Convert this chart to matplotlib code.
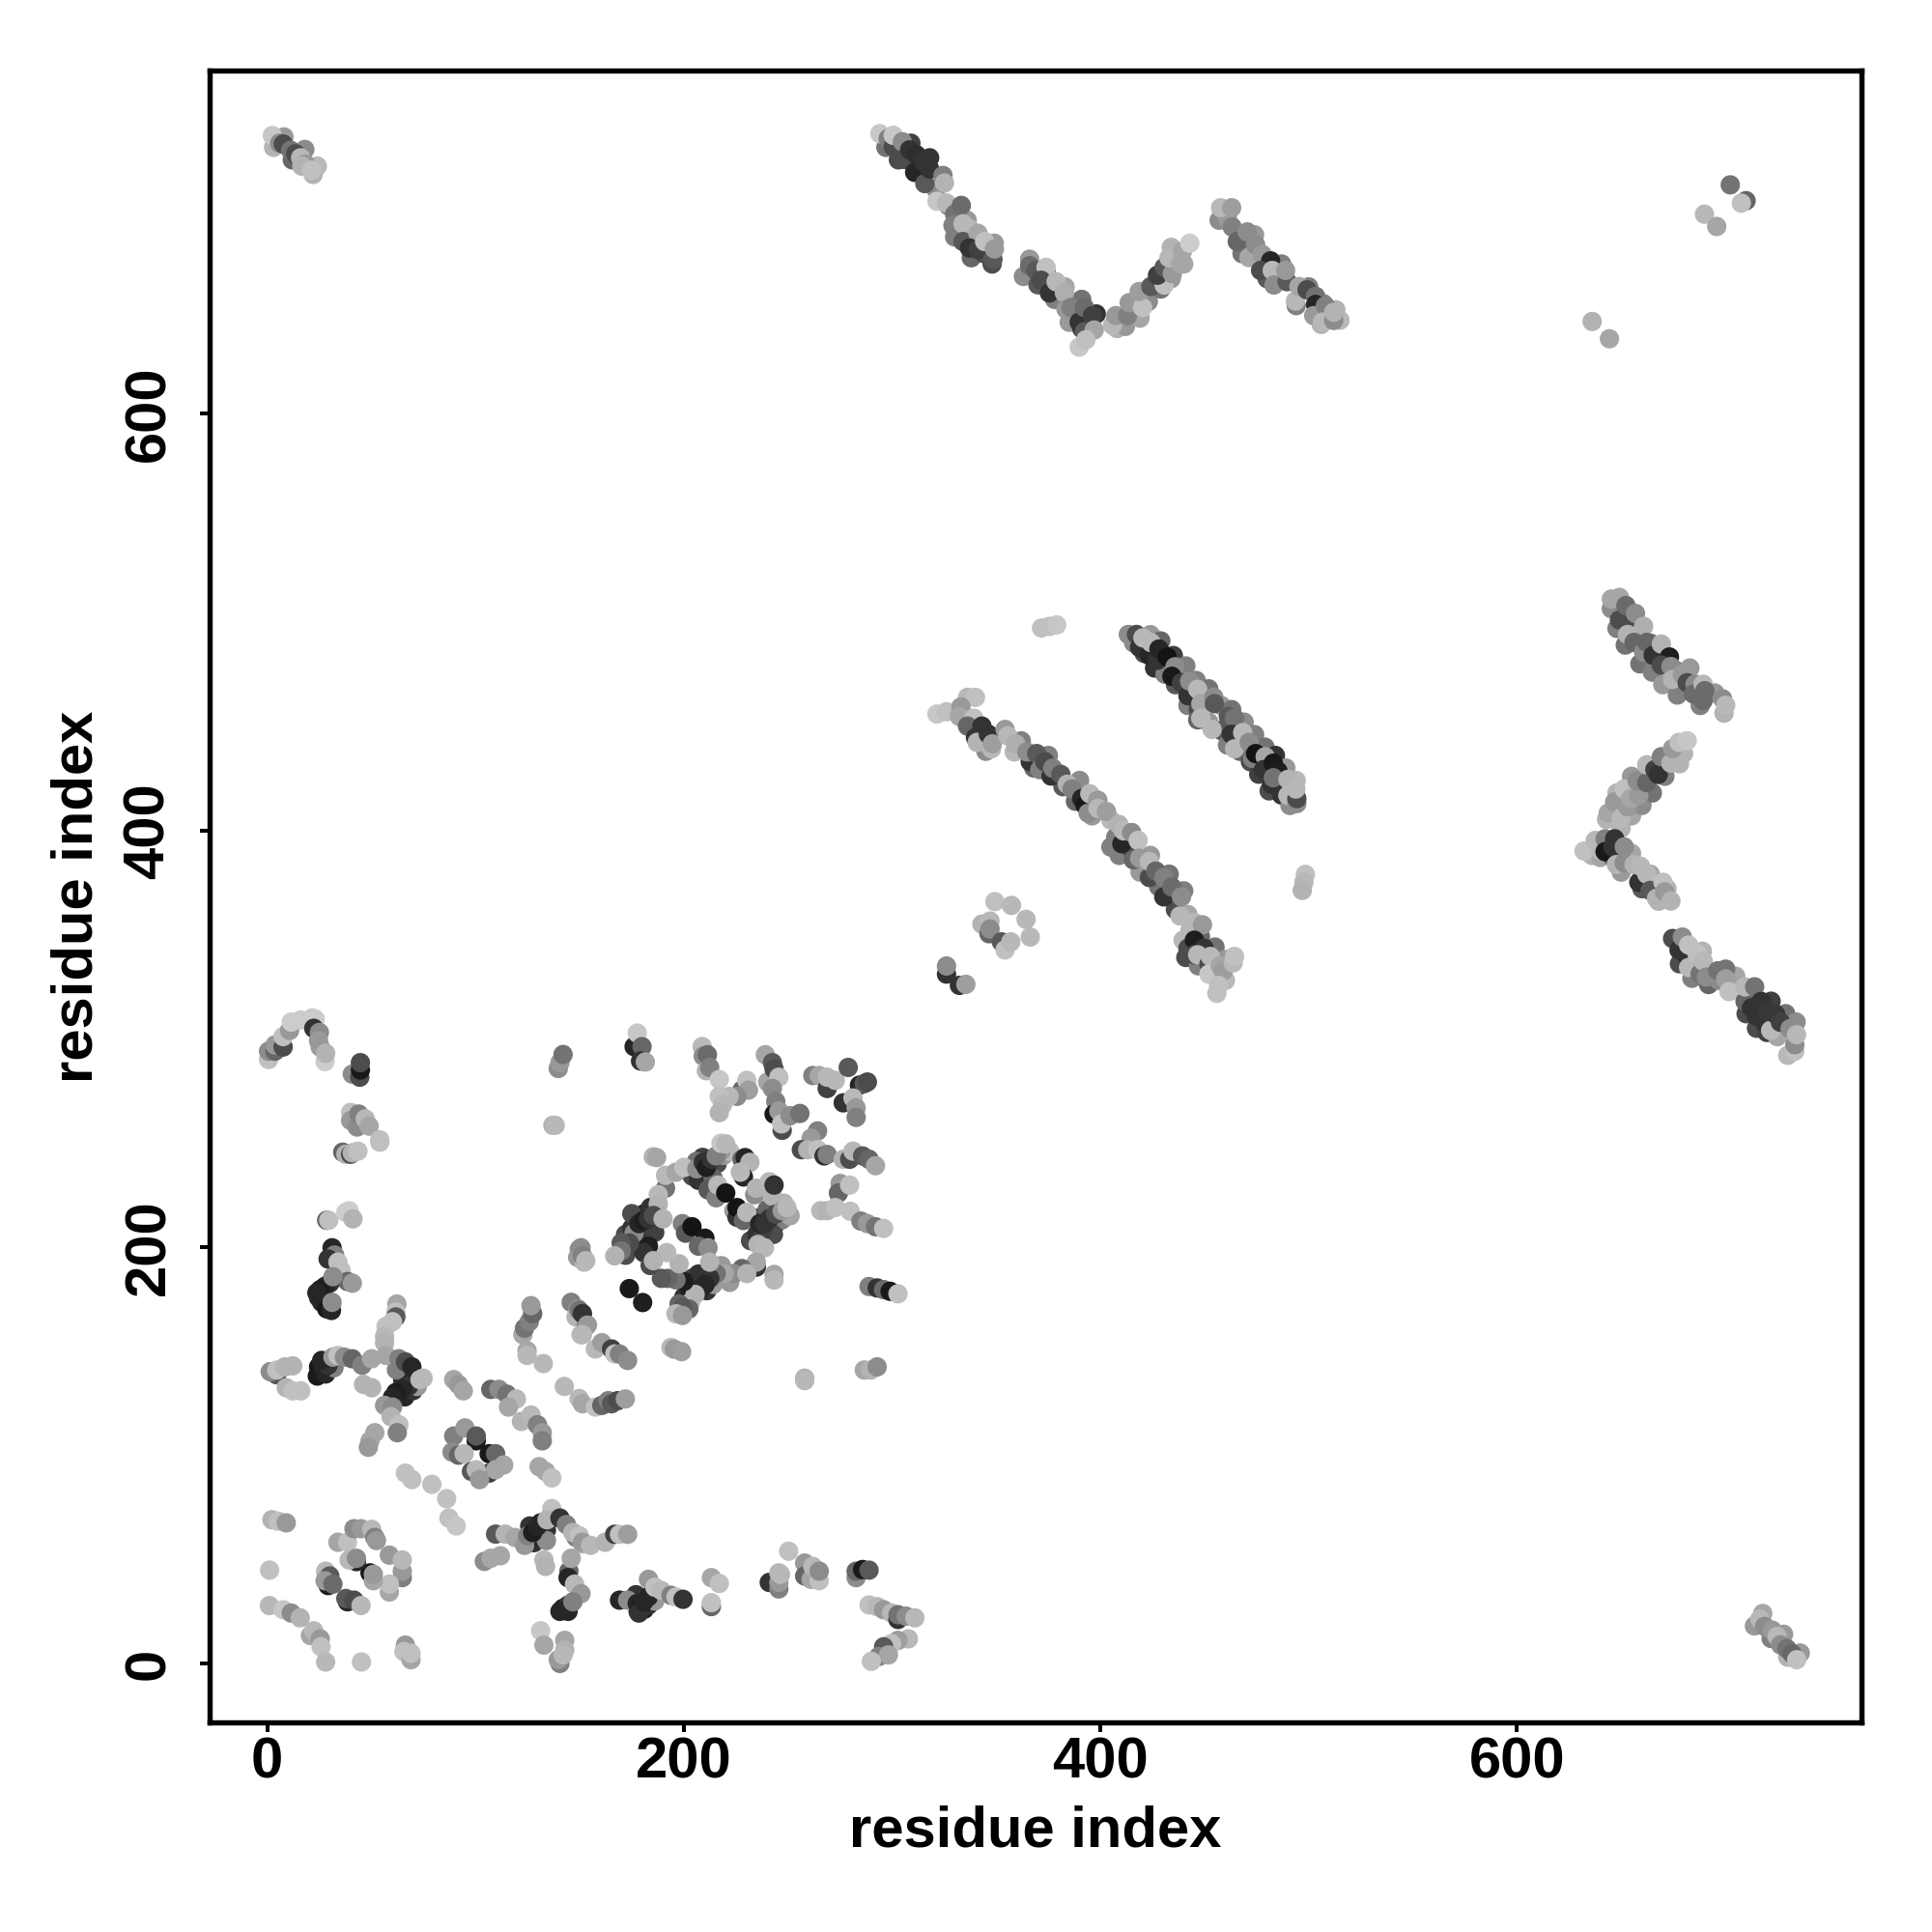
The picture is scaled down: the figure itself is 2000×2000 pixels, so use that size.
import matplotlib
matplotlib.use("Agg")
import matplotlib.pyplot as plt
import numpy as np

plt.rcParams['font.family'] = ['Liberation Sans', 'DejaVu Sans']
plt.rcParams['font.weight'] = 'bold'

# (residue i, residue j, grey level), one list per patch
# these sit under the rest and fill out the dense bands
under_bands = [(204,234,.3),(207,232,.2),(212,236,.15),(216,240,.3),(219,244,.6),(222,246,.72),(214,233,.4),(209,243,.25),(206,241,.45),
  (232,203,.3),(235,206,.2),(238,204,.15),(241,208,.2),(244,211,.25),(247,213,.5),(251,215,.65),(243,206,.3),(236,214,.3),(240,218,.4),(248,221,.7),
  (200,176,.2),(203,178,.12),(206,182,.15),(209,184,.2),(212,188,.3),(214,190,.45),(204,185,.3),(207,187,.2),(211,179,.2),(214,182,.6),(218,191,.6),(222,183,.6),
  (172,206,.3),(175,209,.2),(178,214,.15),(181,216,.15),(184,219,.2),(187,212,.7),(175,216,.3),(178,205,.2),(186,207,.25),(172,196,.3),
  (24,138,.1),(28,139,.15),(32,142,.5),(66,128,.15),(70,131,.2),(65,136,.2),(68,139,.15),(62,141,.5),(72,133,.6),
  (178,25,.2),(181,26,.12),(183,28,.2),(186,30,.6),(177,33,.2),(128,58,.2),(131,60,.15),(134,64,.2),(137,70,.3),(126,66,.2),(134,59,.55),
  (416,490,.55),(421,485,.3),(426,478,.2),(431,475,.5),(436,470,.35),(442,460,.5),(447,458,.3),(452,452,.6),(458,448,.35),(461,441,.5),(467,438,.4),(472,433,.3),(476,427,.25),(481,419,.3),(487,417,.2),(491,412,.55),
  (424,494,.6),(429,491,.4),(435,484,.25),(441,479,.5),(446,472,.5),(452,468,.45),(458,460,.6),(463,458,.45),(469,452,.55),(474,446,.5),(479,440,.45),(484,436,.2),(489,430,.6),(494,424,.72),
  (345,438,.55),(362,443,.5),(368,430,.4),(375,436,.5),(382,421,.35),(388,414,.4),(390,424,.55),(396,407,.6),(405,405,.72),
  (405,392,.5),(409,388,.5),(414,392,.3),(419,380,.6),(424,388,.6),(428,373,.45),(433,379,.45),(436,362,.3),(440,371,.5),(443,352,.72),(448,349,.4),(441,339,.3),(447,335,.5),(455,344,.45),(460,338,.6),(460,328,.72),
  (648,497,.5),(652,489,.45),(659,480,.45),(664,490,.5),(665,476,.5),(670,470,.6),(676,477,.5),(677,465,.5),(683,478,.6),(688,460,.5),(695,466,.6),
  (650,401,.7),(648,418,.7),(655,407,.65),(655,426,.6),(660,412,.55),(665,418,.45),(668,431,.35),(671,426,.5),(678,432,.7),(680,437,.7),
  (636,388,.7),(640,387,.65),(646,387,.4),(650,380,.6),(655,389,.65),(660,372,.35),(664,379,.65),(668,366,.7),(672,372,.7),
  (678,336,.3),(684,329,.5),(689,342,.7),(692,326,.4),(697,328,.55),(705,330,.65),(710,312,.3),(715,305,.3),(720,303,.25),(725,301,.65),(722,318,.25),(729,312,.45),(734,308,.55),(730,292,.72),
  (297,728,.45),(303,722,.3),(309,730,.25),(313,716,.25),(318,723,.2),(321,708,.55),(327,700,.5),(330,685,.5),(336,693,.6),(338,675,.4),(344,677,.3),(349,682,.6),(348,672,.3),
  (363,666,.55),(370,662,.35),(374,668,.5),(378,655,.5),(383,661,.65),(385,644,.6),(391,655,.45),(398,648,.2),(391,641,.25),
  (408,641,.7),(412,642,.6),(419,646,.65),(423,654,.55),(429,660,.45),(434,665,.6),(440,672,.65),(434,680,.7),
  (457,693,.55),(461,694,.6),(468,677,.45),(474,686,.6),(480,665,.35),(487,672,.5),(494,652,.5),(500,661,.5),(507,653,.55),(506,643,.7),(510,647,.6),(515,645,.72),(513,650,.7),
  (3,728,.7),(8,733,.6),(12,722,.4),(18,727,.55),(22,715,.7),(24,719,.72),
  (718,24,.65),(714,18,.6),(722,12,.5),(728,14,.6),(730,3,.7),(736,5,.6)]

arc_left = [(0.6,290,.75),(0.6,294,.55),(3.7,294,.4),(3.7,297,.6),(7.6,296,.3),(7.6,301,.75),(10.7,304,.6),(11.5,308,.8),
  (16,309,.8),(21.5,310,.8),(23,309.4,.8),(22.3,305,.2),(25,303,.55),(24.6,299,.6),(25.4,296,.6),(27.7,289,.8),(28,293,.7),
  (40.8,283,.55),(44.4,281.5,.3),(44.7,285,.1),(44.7,288.5,.3),(139.7,285.7,.55),(140.5,288.5,.6),(142,292.4,.45),
  (137.1,258.4,.7),(138.2,258.4,.72),(40,264.6,.75),(40,260.7,.6),(43.1,257.6,.55),(43.9,263.8,.5),(47,261.5,.72),(48.9,258,.65),
  (54,250.3,.75),(54,251.4,.75),(36.2,245.5,.4),(37.7,244.5,.7),(40,244.5,.3),(40.8,245.2,.7),(43.5,246,.75)]

column_left = [(28.5,212.8,.4),(29.5,212.8,.75),(37.7,216.6,.8),(39.3,217.4,.8),(41.1,213.5,.7),
  (31.1,199.6,.15),(32.3,196.1,.5),(29.2,194.2,.2),(33.9,192.7,.75),(35.4,188.8,.75),(38.5,183.4,.4),(40.8,182.6,.6),
  (30,182.6,.2),(27.7,181.1,.15),(25.4,179.5,.12),(23.8,178,.15),(24.6,175.7,.15),(26.1,173.4,.15),(28.5,170.3,.1),(30.8,169.5,.15),
  (31.1,173.4,.55),(31.5,185.7,.55),(62.2,172.6,.65),(61.7,168.7,.75),(61.7,166.4,.35),(60.1,164.1,.75),(57,161.8,.75),(56.3,157.1,.72),(56.3,154,.7),
  (122.7,157.9,.65),(123.5,161,.45),(125.8,164.1,.5),(127.4,168,.4),(126.6,171.8,.6),(124.7,150.2,.65),(124.7,147.9,.72),(132.5,144,.72),
  (142.6,133,.72),(149.7,127.2,.72),(145.9,173.4,.5),(149,170.3,.55),(150.6,166.4,.2),(148.2,166.4,.7),(152.9,161.8,.55),(150.6,157.9,.72),
  (149.8,198.9,.55),(149,195,.6),(152.1,192.7,.72)]

zigzag_left = [(4.5,138.6,.35),(1.4,140.1,.55),(4.5,140.9,.75),(8.4,142.4,.7),(12.2,142.9,.7),(9.1,132.4,.7),(12.2,130.9,.75),(16.1,130.9,.75),
  (24.6,142.4,.1),(26.9,141.7,.15),(29.2,143.2,.2),(26.1,145.5,.15),(31.5,147.1,.6),(33.9,147.9,.75),(37,147.1,.55),(40.8,146.3,.4),
  (45.5,143.2,.5),(50.1,146.3,.65),(46.2,134,.7),(50.1,132.4,.7),(57,147.9,.65),(63.2,146.3,.5),(66.3,144.8,.3),(69.4,142.4,.15),
  (67.9,133.2,.2),(64.8,131.6,.15),(61.7,130.1,.12),(60.1,127.8,.15),(73.3,136.3,.72),(74.8,137,.72),(56.3,123.9,.6),(60.1,123.1,.55),
  (59.4,118.5,.7),(63.2,114.6,.75),(62.4,110.8,.5),(51.6,110.8,.65),(49.3,106.9,.65),(48.5,103.8,.6),
  (89.5,136.3,.65),(91.8,133.9,.6),(94.1,130.9,.65),(107.3,131.6,.4),(111.2,131.6,.55),(115,129.3,.45),(119.6,127,.72),(115.8,123.1,.65),
  (122,116.2,.7),(126.6,119.3,.72),(129.7,114.6,.5),(132,110.8,.6),(132,106.9,.5),(130.5,94.5,.65),(133.6,92.2,.65),(136.6,89.1,.75),
  (89.5,109.2,.5),(94.9,113.1,.6),(100.3,106.9,.1),(100.3,109.2,.35),(88.7,101.5,.55),(91.8,100,.4),(94.5,100.7,.72),(106.5,100.7,.1),(109.6,100.7,.4),
  (98,92.2,.35),(106.5,91.4,.25),(100.3,93,.72),(101.9,88.3,.6),(109.6,93,.65),(113.5,95.3,.65),
  (66.3,91.4,.75),(69.4,88.3,.75),(79,86,.75),(86.1,79.1,.75),(87.2,69.8,.75),(90.7,66,.78)]

ring_low = [(2.2,69,.7),(5.3,68.3,.75),(9.1,67.5,.6),(1.1,44.8,.75),(1,27.8,.72),(7.6,25.8,.78),(11.5,24.2,.55),(15.8,21.9,.7),
  (20.7,13.4,.65),(22.3,15.7,.72),(25.4,11.8,.6),(25.8,8,.75),(28,0.7,.72),(45.2,0.7,.75),(66.3,8.8,.6),(65.6,5.7,.75),(69,1.8,.65),(69,4.9,.75),
  (33.9,58.2,.65),(38.5,58.2,.75),(41.6,64.7,.55),(45,64.7,.6),(50.1,64.4,.72),(51.6,60.5,.5),(52.4,59,.6),(58.6,52,.6),(64.8,41.2,.5),(64.8,44.3,.6),(64.8,49.7,.72),
  (58.6,34.3,.65),(58.6,38.1,.75),(49.3,43.5,.1),(50.9,39.7,.65),(50.9,42.8,.6),(42.8,48.9,.15),(39.3,49.7,.72),(42.8,50.5,.55),
  (28,44.3,.72),(29.2,37.4,.1),(30,42,.35),(27.7,39.7,.6),(31.5,38.1,.42),(38.5,29.6,.15),(37.7,31.2,.35),(41.6,30.4,.3),(45,27.8,.72)]

peak_low = [(109.6,62.1,.35),(114.2,62.1,.7),(118.9,60.5,.65),(123.5,56.7,.6),(125,61.3,.5),(127.4,62.9,.12),(129.7,65.9,.15),(131.2,67.5,.15),
  (136.6,74.4,.75),(134.3,69,.7),(140.5,69.8,.2),(143.6,66.7,.5),(148.2,60.5,.5),(146.7,62.9,.7),(151.3,57.4,.7),(149.8,61.3,.75),(151.3,58.2,.6),
  (155.2,56.7,.72),(162.2,58.2,.7),(166.8,62,.25),(169.1,62,.75),(173,62,.62),(104.2,49,.55),(107.3,50.5,.65),(111.9,51.7,.65),
  (132.8,49.7,.72),(133.6,46.6,.7),(144.8,44.3,.4),(144.4,41.2,.15),(145.9,50.5,.65),(147.5,38.1,.72),(150.6,33.5,.6),
  (142,26.5,.12),(144.4,28,.2),(144.4,25,.15),(140.5,25,.15),(146.7,29.6,.5),(131.2,15.7,.78),(132.8,8.8,.65),(142.8,11.1,.65),(142.8,6.4,.7),
  (140.5,0,.5),(139.7,1.8,.6),(142,4.1,.72)]

foot_low = [(169.1,30.4,.15),(173,30.4,.55),(183,40.4,.6),(177.6,28.8,.15),(179.2,27.3,.12),(178.4,24.2,.2),(180.7,29.6,.15),(183,32,.15),
  (186.1,36.6,.75),(189.2,35,.72),(193.8,32.7,.5),(196.2,31.9,.75),(199.6,30.8,.2),(213.2,41.2,.65),(217,38.4,.75),(213.2,27.3,.4),(213.2,29.2,.75),
  (241,38.9,.2),(245.6,35.8,.5),(245.6,38.9,.6),(245.6,43.5,.72),(246.4,42.8,.72),(250.3,53.9,.75),(258,48.2,.6),(258,42,.4),(261.1,40.4,.65),(261.9,46.6,.72),(265,39.7,.75),(265,44.3,.55),
  (282.7,41.2,.55),(282.7,44.3,.4),(285.8,45.1,.1),(288.9,44.8,.35),(288.9,28.1,.75),(292.8,27.3,.72),(295.9,25.8,.6),(299.7,24.2,.72),(302.8,21.1,.2),(302.8,23.4,.45),
  (306.7,22.7,.55),(310.9,21.9,.72),(307.8,11.8,.72),(302.8,11.1,.62),(299.7,9.5,.75),(295.9,8,.35),(293.5,3.3,.5),(298.2,4.1,.65),(290,1,.75),
  (258,137,.7),(258,135.8,.72),(286.6,140.9,.65),(289.7,140.9,.7),(292.8,142.4,.55),
  (151.3,124.7,.65),(157.5,123.1,.75),(160.6,123.9,.4),(163.7,126.2,.5),(165.3,124.7,.35),(168.3,126.2,.3),(171.9,127,.62)]

upper_mid = [(176.1,296.2,.15),(177.6,302.7,.78),(179.9,296.2,.4),(179.2,289.3,.2),(181.5,288.8,.65),
  (208.8,296.2,.72),(209.3,291.6,.55),(211.3,292.3,.42),(210.8,284.6,.7),(212.4,286.2,.5),(217,280.4,.78),(227.9,275.3,.4),(230.2,280,.75),(231,275.3,.62),
  (225.5,272.3,.55),(221.7,272.3,.72),(217,272.3,.75),(218.6,268.4,.72),(217,264.5,.7),
  (239.1,292.3,.65),(240.2,279.2,.65),(242.5,288.5,.35),(243.3,285.4,.3),(245.6,281.5,.75),(242.5,276.1,.55),(244.1,269.9,.5),(243.3,263.8,.1),(245.6,265.3,.6),
  (247.2,256,.3),(246.9,259.1,.75),(251,263,.55),(255.7,264.1,.45),
  (261.9,282.3,.5),(265,282.3,.65),(268.8,276.1,.25),(268.8,281.5,.72),(272.7,280,.72),(278.9,286.2,.35),(284.3,277.7,.15),(286.6,278.4,.35),(288.1,279.2,.3),
  (276.5,269.2,.2),(281.2,271.5,.72),(282.7,266.8,.6),(282.7,262.2,.5),
  (264.2,255.7,.5),(261.1,252.2,.6),(256.4,246.7,.3),(259.5,246.7,.7),(264.2,246.7,.75),(267.3,243.7,.2),(268.8,244.4,.5),(276.5,242.1,.7),(279.6,242.1,.3),(281.2,246,.72),
  (285.8,243.7,.35),(288.9,242.1,.4),(292,239,.65),(275,230.5,.6),(274.2,225.9,.4),(279.6,229.7,.75),(265.7,217.4,.72),(268.8,217.4,.7),(272.7,218.9,.75),(279.9,217.1,.75),
  (285,212.4,.5),(288.1,211.2,.6),(292,209.7,.45),(295.9,208.9,.75),(288.9,181,.5),(292.8,180.3,.2),(295.9,179.5,.42),(299,178.7,.1),(302.8,177.5,.75)]

hexagon = [(185.3,243.3,.7),(186.9,242.9,.65),(191.2,228.2,.45),(191.2,234.4,.72),(187.7,225.1,.72),(187.7,220.5,.7),(196.2,235.9,.65),(200,238.2,.75),(206.2,237.5,.55),
  (209.3,240.6,.2),(210.8,238.2,.12),(213.2,242.1,.2),(217.8,246,.6),(215.5,243.7,.5),(217.8,249.8,.78),(220.1,249.5,.72),
  (211.6,227.4,.35),(215.5,223.6,.5),(216.3,229.7,.72),(220.1,225.9,.08),(227.9,242.1,.4),(229.4,242.9,.15),(231.7,240.6,.7),(228.6,233.6,.15),(227.1,235.9,.72),
  (234,225.1,.55),(234.8,228.2,.7),(241,231.3,.72),(242.5,224.3,.7),(243.3,229.7,.2),(224,217.4,.6),(225.5,214.3,.2),(225.5,218.9,.08),(228.6,212.7,.4),(230.2,216.6,.72),
  (237.9,208.1,.25),(236.4,211.2,.15),(238.7,211.2,.2),(241,213.5,.2),(244.1,215.8,.3),(247.2,217.4,.6),(249.5,218.9,.72),
  (235.6,201.2,.7),(238.7,199.6,.72),(234.8,190.3,.2),(234.8,192.7,.65),(227.9,189.6,.4),(224,187.2,.55),(230.2,187.2,.7),(243.3,186.8,.65),(243.3,184.1,.72),
  (219.4,187.2,.65),(215.5,187.2,.45),(212.4,184.9,.2),(210.1,181.8,.15),(207.8,179.5,.15),(205.4,177.2,.7),(203.1,173.3,.7),(202.4,170.2,.4),(197.7,172.6,.4),(199.3,171,.35),
  (196.2,167.9,.72),(199.3,167.1,.6),(200,183.4,.12),(196.2,184.2,.45),(192.3,184.9,.4),(189.2,184.9,.35),(197.7,191.9,.7),(173.8,180,.1),(180.2,173.3,.12),
  (183,200.4,.12),(180.7,197.3,.2),(191.8,197.3,.72),(183.8,191.1,.3),(185.4,193.4,.7),(176.1,206.6,.55),(173.8,201.9,.3),(169.9,201.9,.35),(169.9,198.1,.45),(166.8,195.7,.7),
  (178.4,211.2,.15),(180.7,212.7,.12),(183,213.5,.2),(185.4,215.1,.3),(190,213.5,.7),(199.3,211.2,.5),(200.8,206.6,.35),(203.9,209.7,.08),(210.1,204.2,.1),(207,200.4,.4),(211.6,199.6,.55),(212.4,192.7,.7),
  (150.6,199.6,.55),(151.3,195.7,.5),(152.9,193.4,.72),(149.8,169.5,.45),(151.3,168,.2),(153.7,162.5,.6),(151.3,157.9,.72),(157.5,151,.72),(160.6,154,.62),(165.3,151,.25),(166.8,148.6,.75),(169.1,148.6,.5),(173,145.5,.55),
  (193.8,151.7,.72),(195.4,150.9,.6),(198.9,149.7,.62)]

top_strands = [(2.4,733.7,.78),(5.9,730,.55),(7.7,729.6,.3),(11.2,726.6,.45),(13.6,724.9,.3),(16,723,.72),(18.3,720,.6),(16.6,719,.7),(21.3,717,.75),
  (294.1,734.6,.78),(298.1,732.2,.5),(300.5,728.4,.3),(300.5,733.8,.78),(304.9,730.7,.55),(306,722.2,.3),(308.4,726.8,.2),(311.6,724.5,.18),(310.8,716,.15),(314.8,721.4,.2),(315.7,710.6,.35),(318,717.6,.2),
  (324.4,714.5,.5),(325.1,710.9,.7),(321.5,702.1,.78),(326,701.3,.72),(330,695.9,.45),(333.2,700.1,.42),(329.2,690.5,.5),(334,691.3,.72),(337.1,689,.72),(334,682.8,.35),(341.2,686.7,.65),
  (337.1,679.7,.2),(341.2,678.9,.25),(344.4,682.8,.75),(348.4,674.3,.35),(349.1,679.2,.6),
  (366,674.3,.6),(366,671.2,.42),(369,668.9,.35),(373.9,670.4,.75),(371.5,664.2,.3),(375.5,658.1,.2),(378.7,663.5,.72),(382.7,658.1,.68),(383.5,650.3,.6),(385.9,651.1,.5),
  (389.8,644.1,.2),(392.3,651.1,.42),(396.2,647.2,.25),(392.3,639.5,.35),(397,640.3,.65),(389.8,632.1,.78),(393,635.6,.75),
  (405.8,642.6,.72),(407.4,647.2,.6),(413,647.2,.5),(413.8,653.4,.6),(420.2,651.1,.75),(418.6,658.8,.62),(424.2,661.2,.35),(430.6,661.9,.75),(427.4,666.6,.25),(430.6,670.4,.35),(434.5,667.3,.6),
  (432.9,675,.72),(438.6,672,.65),(439.4,678.2,.65),(442.9,682,.8),
  (457.7,699,.72),(463,699,.62),(463.3,689.7,.5),(465.7,682.8,.4),(470.5,687.4,.55),(471.3,675.1,.65),(474.5,681.2,.55),(477.7,676.6,.6),(481.7,673.5,.15),(476.9,668.9,.3),(482.5,668.9,.72),
  (483.3,661.9,.55),(489.6,663.5,.35),(488.9,668.9,.6),(493.6,654.2,.72),(495.3,661.2,.65),(499.2,659.6,.3),(503.3,656.5,.45),(503.3,652.6,.15),(502.4,647.2,.6),(508,651.9,.5),(506.5,644.1,.72),(512,644.9,.55),(512,648.8,.7),
  (702.4,710,.45),(710,702.4,.4),(707.7,701.2,.75),(690,695.9,.72),(695.9,690,.65),(636.1,644.4,.7),(644.4,636.1,.65)]

mid_right_strand = [(371.7,497.2,.75),(375.6,498,.75),(379,498.7,.78),(413.4,494.1,.55),(417.3,494.1,.3),(418.8,487.9,.2),(420.4,492.5,.72),(423.5,484.1,.15),(424.3,490.2,.72),(427.3,481.7,.2),(428.1,487.1,.15),(432,483.3,.08),
  (435.8,478.6,.55),(434.3,474,.1),(438.9,470.9,.25),(442,464.7,.2),(442.8,471.7,.55),(446.7,467.8,.72),(448.2,460.9,.65),(454.4,464,.55),(454.7,460.9,.35),(446.7,453.1,.4),(448.2,453.9,.72),
  (461.4,454.7,.35),(464.4,453.9,.45),(453.6,448.5,.72),(462.9,446.2,.2),(464.4,439.2,.72),(468.3,447,.72),(471.4,442.3,.55),(473,434.6,.5),(474.5,436.9,.08),(479.1,435.4,.65),(478.3,429.2,.2),(483,432.3,.1),(485.3,428.4,.12),
  (482.2,422.2,.2),(483,425.3,.45),(490,424.5,.7),(490,416.8,.72),(494.3,412.9,.55),(494.3,415.3,.3),(493.8,419.9,.72),(498.4,378.9,.75),(497.7,375.1,.72),(496.9,371.2,.7)]

mid_left_strand = [(321.5,455.9,.78),(326.1,457,.75),(336.2,463.9,.72),(340,463.9,.75),(333,459.3,.6),(332.3,454.7,.65),(339.2,453.9,.75),(336.2,450.1,.4),(343.1,450.1,.2),(340,444.6,.2),(340.8,442.3,.7),(346.2,446.2,.2),(347.7,439.2,.72),(348.1,441.6,.62),
  (354.2,448.5,.6),(355.5,445.4,.72),(358.6,437.7,.72),(359.3,441.6,.68),(366.3,433,.2),(364.7,437.7,.55),(369.4,436.9,.35),(370.9,429.2,.5),(373.3,433,.3),(376.3,426.1,.2),(377.1,429.9,.5),(381,426.9,.35),(384.1,422.2,.7),(386.4,419.9,.5),
  (391,415.3,.15),(392.6,412.2,.1),(394.1,408.3,.55),(394.9,417.6,.72),(398.8,414.5,.6),(398.8,410.6,.72),(402.9,409.1,.62),(407.3,396.7,.5),(408.8,402.9,.7),(410.3,393.6,.15),(411.1,399.8,.72),(415,399,.55),(418.1,395.2,.75),
  (415.8,385.9,.4),(418.8,386.7,.6),(423.5,377.4,.3),(423.5,385.1,.72),(426.6,380.5,.4),(430.4,368.1,.2),(430.4,377.4,.5),(434.3,372.8,.42),(438.9,368.1,.55),(442,359.6,.65),(438.2,358.9,.72),(445.1,355.8,.72),(449,354.7,.6),
  (439.7,347.3,.72),(442,343.4,.3),(445.1,347.3,.12),(449.8,343.4,.2),(445.1,340.3,.3),(446.7,340.3,.72),(452.1,335.7,.3),(452.8,339.5,.72),(452.1,331,.78),(457.5,334.9,.65),(459,332.6,.62),(463.7,336.4,.72),(464.4,339.5,.75),(456.7,325.6,.75),(455.9,321.8,.75),
  (349.3,365.8,.75),(357.3,364,.72),(343.1,355,.7),(347,356.5,.72),(346.5,350.4,.4),(347,352.7,.55),(364.3,357.3,.72),(366.3,348.8,.72),(352.4,346.5,.35),(354.2,342.6,.75),(357,346.5,.72),
  (326.1,331,.2),(326.1,334.9,.55),(332.3,325.6,.2),(335.4,326.1,.62)]

right_strands = [(645.3,506.5,.55),(645.3,511.1,.65),(649.2,511.9,.65),(649.2,501.1,.3),(652.3,508,.42),(655.4,497.2,.3),(656.9,504.2,.55),(660.8,498,.68),(653.1,494.1,.7),(656.2,490.3,.4),(660.8,485.6,.55),(662.3,490.3,.4),(665.4,484.1,.2),(669.3,489.5,.7),(673.2,483.3,.12),
  (669.3,479.4,.3),(673.9,478.7,.55),(674.7,472.5,.7),(679.4,474.8,.6),(681.7,470.9,.3),(685.5,470.2,.55),(684.8,465.5,.42),(689.4,470.2,.72),(690.2,467.1,.42),(689.4,462.4,.42),(698.7,463.2,.55),(699.4,456.3,.7),(700.2,460.1,.72),
  (643,405.3,.7),(643.8,408.3,.65),(646.9,413.7,.6),(650,406,.72),(653.1,411.4,.6),(651.5,419.9,.75),(654.6,415.3,.65),(658.5,416.8,.6),(657.7,423.8,.55),(662.3,423,.4),(662.3,431.5,.72),(666.2,429.2,.25),(667.8,426.9,.2),(669.3,435.4,.5),(673.9,432.3,.7),(674.7,439.3,.6),(677.8,442.3,.75),(681.7,443.1,.78),
  (632.2,390.1,.75),(637.6,395.2,.72),(639.9,390.6,.72),(642.3,396,.5),(642.3,389.8,.1),(646.1,392.1,.2),(646.9,396,.2),(651.5,392.1,.55),(647.7,383.6,.7),(651.5,384.4,.55),(656.2,383.6,.7),(658.5,375.1,.2),(659.3,382.8,.72),(662.3,379,.72),(663.9,371.2,.35),(667,367.4,.7),(670.1,375.1,.75),(670.9,370.5,.6),(673.9,366.1,.7),
  (674.7,348.1,.3),(677.8,342.6,.2),(679.4,348.8,.55),(681.7,339.5,.2),(682.4,334.2,.72),(682.4,345,.75),(686.3,341.1,.75),(687.9,331.1,.45),(689.4,337.2,.72),(690.9,329.6,.55),(696.4,332.6,.45),(700.2,333.4,.45),(700.2,328.7,.62),(701.8,322.6,.75),
  (709.5,317.9,.4),(709.5,324.9,.72),(712.6,314.8,.2),(714.1,324.9,.45),(714.9,311,.2),(717.2,317.9,.2),(718.8,307.9,.2),(720.3,313.3,.22),(721.8,304,.72),(724.2,311.7,.22),(726.5,307.9,.25),(731.1,304.8,.55),(733.4,294,.75),(733.4,297.1,.55),(734.2,301.9,.72),
  (716.6,21.3,.72),(718.9,17.8,.55),(722.5,16,.6),(724.9,13,.72),(726.6,8.9,.55),(729.6,7.1,.45),(732,4.7,.4),(734.3,1.8,.75)]

patches = [under_bands, arc_left, column_left, zigzag_left, ring_low, peak_low, foot_low, upper_mid, hexagon,
           top_strands, mid_right_strand, mid_left_strand, right_strands]

ticks = [0, 200, 400, 600]

fig = plt.figure(figsize=(10, 10), dpi=200)
ax = fig.add_axes([217/2000, 1-1783/2000, 1710/2000, 1710/2000])

for p in patches:
  pts = np.array(p)
  ax.scatter(pts[:, 0], pts[:, 1], s=52, c=pts[:, 2], cmap="gray", vmin=0, vmax=1, linewidths=0)

ax.set_xlim(-27.7, 765.4)
ax.set_ylim(-28.3, 764.9)
ax.set_xticks(ticks)
ax.set_yticks(ticks)
ax.tick_params(length=3.6, width=1.45, labelsize=21.5)
ax.tick_params(axis="x", pad=1.5)
ax.tick_params(axis="y", pad=9)
for t in ax.get_yticklabels():
  t.set_rotation(90)
  t.set_va("center")
ax.set_xlabel("residue index", fontsize=21.5, fontweight="bold", labelpad=6)
ax.set_ylabel("residue index", fontsize=21.5, fontweight="bold", labelpad=7)

for s in ax.spines.values():
  s.set_linewidth(1.95)

fig.savefig("out.png", dpi=200)
